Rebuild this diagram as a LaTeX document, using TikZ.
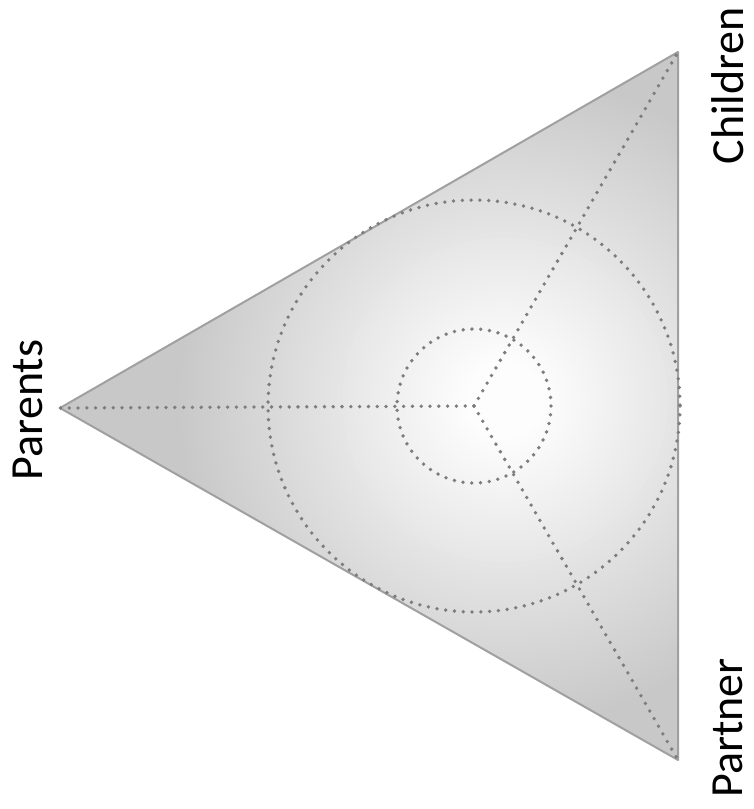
\documentclass[tikz,border=0pt]{standalone}
\usepackage{fontspec}
\setmainfont{Carlito}
\definecolor{cornergray}{RGB}{200,200,200}
\definecolor{edgegray}{RGB}{160,160,160}
\definecolor{dotgray}{RGB}{125,125,125}
\definecolor{centerwhite}{RGB}{253,253,253}
\begin{document}
\begin{tikzpicture}[x=1pt,y=-1pt,
  edge/.style={draw=edgegray,line width=2pt,line join=round},
  dotline/.style={draw=dotgray,line width=3.8pt,line cap=round,dash pattern=on 0pt off 8.8pt},
  lbl/.style={rotate=90,anchor=base,inner sep=0pt,font=\fontsize{46}{55}\selectfont}]
\useasboundingbox (0,0) rectangle (753,809);
\coordinate (P) at (60,408);
\coordinate (C) at (678,52);
\coordinate (R) at (678,760);
\coordinate (O) at (474,406);
\coordinate (S) at (505,400);
% shaded triangle
\begin{scope}
  \clip (P) -- (C) -- (R) -- cycle;
  \fill[cornergray] (0,0) rectangle (753,809);
  \foreach \k in {0,...,52}{
    \pgfmathsetmacro{\rr}{330-\k*290/52}
    \pgfmathsetmacro{\pp}{100*\k/52}
    \fill[centerwhite!\pp!cornergray] (S) circle[radius=\rr];
  }
\end{scope}
\draw[edge] (P) -- (C) -- (R) -- cycle;
% dotted structure
\draw[dotline] (O) circle[radius=206];
\draw[dotline] (O) circle[radius=77];
\draw[dotline] (O) -- (P);
\draw[dotline] (O) -- (C);
\draw[dotline] (O) -- (R);
% labels
\node[lbl] (lp) at (42,410) {Parents};
\node[lbl] (lc) at (743,86) {Children};
\node[lbl] (lr) at (742,728) {Partner};
\end{tikzpicture}
\end{document}
